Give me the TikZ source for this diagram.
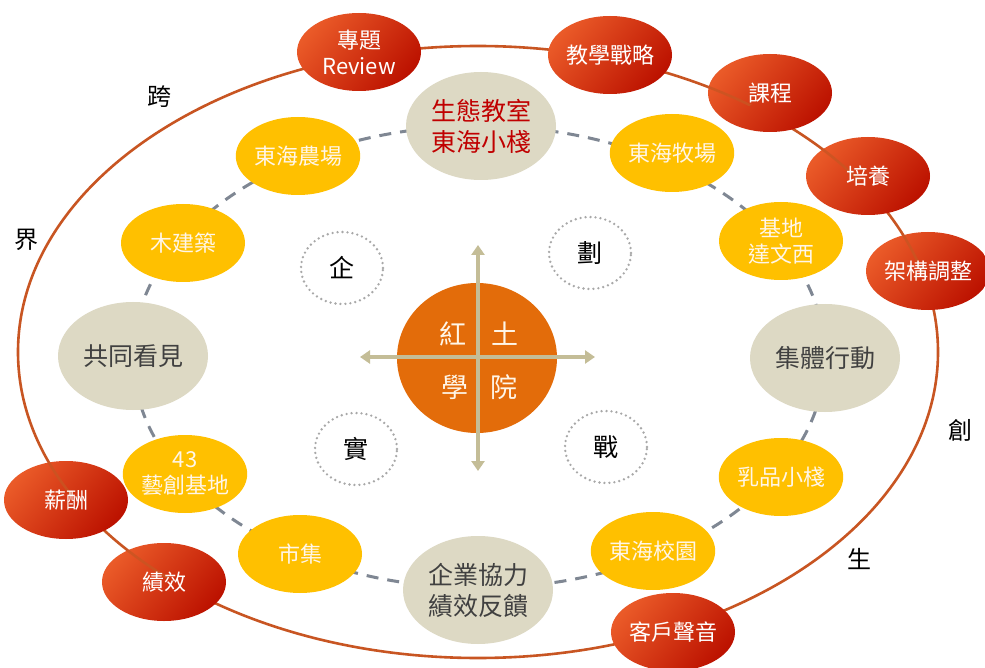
\documentclass[tikz,border=0pt]{standalone}
\usepackage{fontspec}
\setmainfont{Noto Sans CJK TC}
\usetikzlibrary{shapes.geometric,arrows.meta,calc}
\definecolor{ringred}{HTML}{C85522}
\definecolor{redA}{HTML}{EA5A28}
\definecolor{redB}{HTML}{BC1200}
\definecolor{gold}{HTML}{FFC000}
\definecolor{beige}{HTML}{DDD9C4}
\definecolor{core}{HTML}{E36C0A}
\definecolor{crossc}{HTML}{C4BD97}
\definecolor{dashc}{HTML}{7F8793}
\definecolor{dotc}{HTML}{A8A8A8}
\definecolor{darkred}{HTML}{C00000}
\definecolor{txtgray}{HTML}{404040}
\definecolor{cream}{HTML}{FFF6E8}
\tikzset{
  redball/.style={ellipse, minimum width=124pt, minimum height=78pt, inner sep=0pt,
    top color=redA, bottom color=redB, shading angle=50},
  redtext/.style={inner sep=0pt, text=white, align=center, font=\fontsize{22}{26}\selectfont},
  goldball/.style={ellipse, fill=gold, minimum width=124pt, minimum height=78pt, inner sep=0pt,
    text=cream, align=center, font=\fontsize{22}{26}\selectfont},
  beigeball/.style={ellipse, fill=beige, minimum width=150pt, minimum height=108pt, inner sep=0pt,
    text=txtgray, align=center, font=\fontsize{25}{31}\selectfont},
  dotring/.style={ellipse, minimum width=82pt, minimum height=72pt, inner sep=0pt, draw=dotc,
    line width=2.6pt, dash pattern=on 0pt off 5pt, line cap=round, text=black,
    font=\fontsize{25}{28}\selectfont},
  sidelabel/.style={text=black, inner sep=0pt, font=\fontsize{24}{26}\selectfont},
  corechar/.style={text=cream, inner sep=0pt, font=\fontsize{27}{30}\selectfont},
  crossarrow/.style={draw=crossc, line width=3.5pt, {Triangle[length=10pt,width=13pt]}-{Triangle[length=10pt,width=13pt]}},
  ringline/.style={draw=ringred, line width=2.6pt}
}
\begin{document}
\begin{tikzpicture}[x=1pt,y=-1pt]
\useasboundingbox (0,0) rectangle (985,668);
\fill[white] (0,0) rectangle (985,668);
% outer ring and inner dashed ring
\draw[ringline] (478,352) ellipse [x radius=460pt, y radius=306pt];
\draw[dashc, line width=3pt, dash pattern=on 12pt off 9pt] (479,357) ellipse [x radius=346pt, y radius=231pt];
% beige nodes
\node[beigeball, text=darkred] (eco) at (481,126) {生態教室\\東海小棧};
\node[beigeball] (see) at (133,356) {共同看見};
\node[beigeball] (act) at (825,358) {集體行動};
\node[beigeball] (feed) at (478,590) {企業協力\\績效反饋};
% gold nodes
\node[goldball] (farm) at (298,156) {東海農場};
\node[goldball] (wood) at (183,243) {木建築};
\node[goldball] (ranch) at (672,153) {東海牧場};
\node[goldball] (davinci) at (781,241) {基地\\達文西};
\node[goldball] (milk) at (781,477) {乳品小棧};
\node[goldball] (campus) at (653,551) {東海校園};
\node[goldball] (art) at (185,474) {43\\藝創基地};
\node[goldball] (market) at (300,554) {市集};
% red nodes
\node[redball] (review) at (359,52) {};
\node[redball] (strat) at (610,55) {};
\node[redball] (course) at (770,93) {};
\node[redball] (train) at (868,176) {};
\node[redball] (struct) at (928,271) {};
\node[redball] (pay) at (66,500) {};
\node[redball] (perf) at (164,582) {};
\node[redball] (voice) at (673,632) {};
% ring line showing through the lighter upper-left part of some red balls
\foreach \n in {course,train,struct,pay,perf}{
  \begin{scope}
    \clip ($(\n.center)+(-63,-40)$) -- ($(\n.center)+(63,-40)$) -- ($(\n.center)+(-63,40)$) -- cycle;
    \clip (\n.center) ellipse [x radius=62pt, y radius=39pt];
    \draw[ringline, draw opacity=0.8] (478,352) ellipse [x radius=460pt, y radius=306pt];
  \end{scope}
}
\node[redtext] (reviewt) at (review) {專題\\Review};
\node[redtext] (stratt) at (strat) {教學戰略};
\node[redtext] (courset) at (course) {課程};
\node[redtext] (traint) at (train) {培養};
\node[redtext] (structt) at (struct) {架構調整};
\node[redtext] (payt) at (pay) {薪酬};
\node[redtext] (perft) at (perf) {績效};
\node[redtext] (voicet) at (voice) {客戶聲音};
% dotted rings
\node[dotring] (qi) at (342,268) {企};
\node[dotring] (hua) at (590,253) {劃};
\node[dotring] (shi) at (356,449) {實};
\node[dotring] (zhan) at (606,447) {戰};
% outer labels
\node[sidelabel] (kua) at (159,97) {跨};
\node[sidelabel] (jie) at (26,240) {界};
\node[sidelabel] (chuang) at (960,430) {創};
\node[sidelabel] (sheng) at (859,559) {生};
% core
\node[ellipse, fill=core, minimum width=160pt, minimum height=150pt, inner sep=0pt] (core) at (477,358) {};
\coordinate (cl) at (360,357);
\coordinate (cr) at (595,357);
\coordinate (ct) at (478,245);
\coordinate (cb) at (478,471);
\draw[crossarrow] (cl) -- (cr);
\draw[crossarrow] (ct) -- (cb);
\node[corechar] (hong) at (453,334) {紅};
\node[corechar] (tu) at (505,334) {土};
\node[corechar] (xue) at (455,387) {學};
\node[corechar] (yuan) at (504,387) {院};
\end{tikzpicture}
\end{document}
